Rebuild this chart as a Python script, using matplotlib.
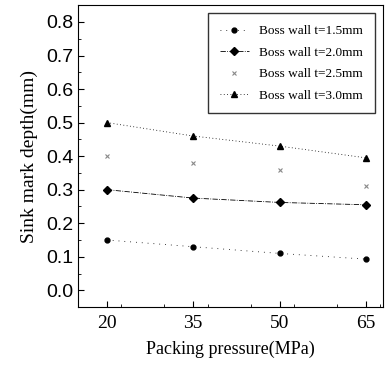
import matplotlib
matplotlib.use('Agg')
import matplotlib.pyplot as plt
from matplotlib.ticker import MultipleLocator

pressure = [20, 35, 50, 65]
wall_15 = [0.15, 0.13, 0.11, 0.093]
wall_20 = [0.30, 0.275, 0.262, 0.255]
wall_25 = [0.40, 0.38, 0.36, 0.31]
wall_30 = [0.50, 0.46, 0.43, 0.395]

fig = plt.figure(figsize=(3.85, 3.7), dpi=100)
ax = fig.add_axes([0.203, 0.17, 0.792, 0.816])

ax.plot(pressure, wall_15, color='k', ls=(0, (1, 6)), lw=0.6, marker='o', ms=3.5,
        label='Boss wall t=1.5mm')
ax.plot(pressure, wall_20, color='k', ls='-.', lw=0.6, marker='D', ms=4.5,
        label='Boss wall t=2.0mm')
ax.plot(pressure, wall_25, color='#888888', ls='none', marker='x', ms=3.5, mew=0.8,
        label='Boss wall t=2.5mm')
ax.plot(pressure, wall_30, color='k', ls=(0, (1, 3)), lw=0.6, marker='^', ms=4.5,
        label='Boss wall t=3.0mm')

ax.set_xlim(15, 68)
ax.set_ylim(-0.05, 0.85)
ax.set_xticks(pressure)
ax.xaxis.set_minor_locator(MultipleLocator(7.5))
ax.set_yticks([i / 10 for i in range(9)])
ax.set_yticklabels(['%.1f' % (i / 10) for i in range(9)])
ax.yaxis.set_minor_locator(MultipleLocator(0.05))
ax.tick_params(direction='in', length=4, labelsize=14)
ax.tick_params(axis='x', pad=6)
ax.tick_params(which='minor', direction='in', length=2)
for lab in ax.get_yticklabels():
    lab.set_fontfamily('Liberation Sans')
for lab in ax.get_xticklabels():
    lab.set_fontfamily('Liberation Serif')
    lab.set_fontsize(14)

ax.set_xlabel('Packing pressure(MPa)', fontfamily='Liberation Serif', fontsize=13, labelpad=6)
ax.set_ylabel('Sink mark depth(mm)', fontfamily='Liberation Serif', fontsize=14, labelpad=6)

ax.legend(loc='upper right', prop={'family': 'Liberation Serif', 'size': 9.5},
          frameon=True, fancybox=False, edgecolor='k', handlelength=2.2,
          borderpad=0.9, labelspacing=0.7, borderaxespad=0.6)

fig.savefig('out.png', dpi=100)
